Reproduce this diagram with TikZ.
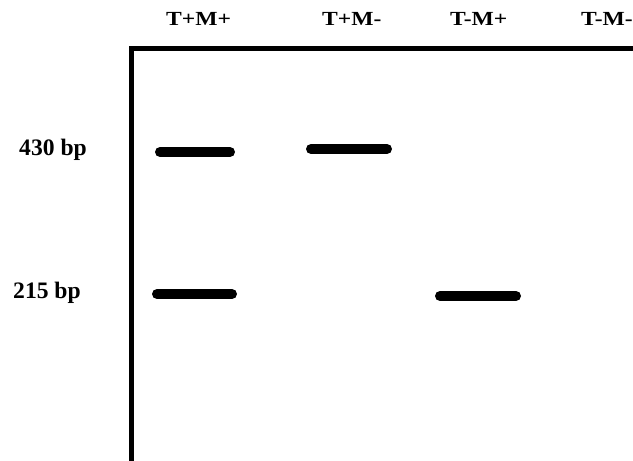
\documentclass[tikz,border=0pt]{standalone}
\usepackage{fontspec}
\setmainfont{Liberation Serif}
\usetikzlibrary{calc}

\tikzset{
  lanelabel/.style={anchor=base west, inner sep=0pt, font=\bfseries\fontsize{20}{22}\selectfont},
  sizelabel/.style={anchor=base west, inner sep=0pt, font=\bfseries\fontsize{23.6}{26}\selectfont},
  gelframe/.style={line width=5pt, line cap=butt, line join=miter},
  band/.style={line width=10pt, line cap=round},
}

\begin{document}
\begin{tikzpicture}[x=1pt, y=-1pt]
  \useasboundingbox (0,0) rectangle (633,461);

  % gel outline: left edge and top edge
  \coordinate (fbottom) at (131,470);
  \coordinate (fcorner) at (131,48.5);
  \coordinate (fright) at (640,48.5);
  \draw[gelframe] (fbottom) -- (fcorner) -- (fright);

  % lane headers
  \node[lanelabel] (l1) at (166,25) {\scalebox{1.18}[1]{T+M+}};
  \node[lanelabel] (l2) at (322,25) {\scalebox{1.18}[1]{T+M-}};
  \node[lanelabel] (l3) at (450,25) {\scalebox{1.18}[1]{T-M+}};
  \node[lanelabel] (l4) at (581,25) {\scalebox{1.18}[1]{T-M-}};

  % fragment sizes
  \node[sizelabel] (s430) at (19,155) {430 bp};
  \node[sizelabel] (s215) at (13,298) {215 bp};

  % bands
  \coordinate (b1a) at (160,152);  \coordinate (b1b) at (230,152);
  \coordinate (b2a) at (157,294);  \coordinate (b2b) at (232,294);
  \coordinate (b3a) at (311,149);  \coordinate (b3b) at (387,149);
  \coordinate (b4a) at (440,296);  \coordinate (b4b) at (516,296);
  \draw[band] (b1a) -- (b1b);
  \draw[band] (b2a) -- (b2b);
  \draw[band] (b3a) -- (b3b);
  \draw[band] (b4a) -- (b4b);
\end{tikzpicture}
\end{document}
